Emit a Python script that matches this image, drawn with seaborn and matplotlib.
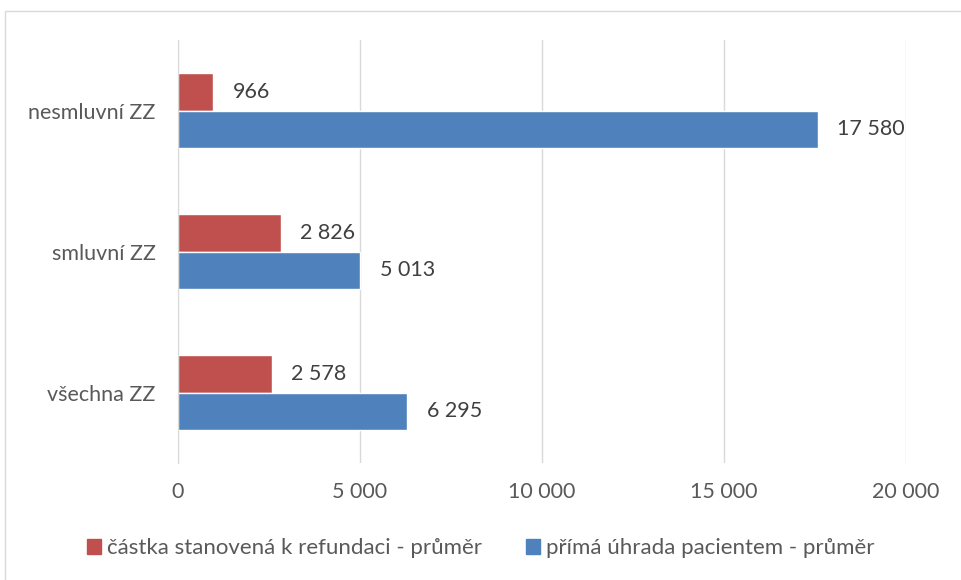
import matplotlib
matplotlib.use("Agg")
import matplotlib.pyplot as plt
import matplotlib.patches as mpatches
import pandas as pd
import seaborn as sns

# data
categories = ["nesmluvní ZZ", "smluvní ZZ", "všechna ZZ"]
series_names = ["částka stanovená k refundaci - průměr", "přímá úhrada pacientem - průměr"]
refund_values = [966, 2826, 2578]
direct_values = [17580, 5013, 6295]
tick_values = [0, 5000, 10000, 15000, 20000]
colors = ["#C0504D", "#4F81BD"]

df = pd.DataFrame({
    "kategorie": categories * 2,
    "serie": [series_names[0]] * 3 + [series_names[1]] * 3,
    "hodnota": refund_values + direct_values,
})

sns.set_style("white")
plt.rcParams["font.family"] = ["Lato", "DejaVu Sans"]

def fmt(v):
    return f"{v:,.0f}".replace(",", " ")

fig = plt.figure(figsize=(9.61, 5.8), dpi=100)
ax = fig.add_axes([178 / 961, 1 - 463 / 580, (906 - 178) / 961, (463 - 40) / 580])

sns.barplot(data=df, y="kategorie", x="hodnota", hue="serie", order=categories,
            hue_order=series_names, palette=colors, width=0.525, orient="h",
            saturation=1, ax=ax, legend=False)

for cont in ax.containers:
    ax.bar_label(cont, labels=[fmt(b.get_width()) for b in cont], padding=14,
                 fontsize=15.5, color="#404040")

ax.set_xlim(0, 20000)
ax.set_xticks(tick_values)
ax.set_xticklabels([fmt(t) for t in tick_values])
ax.set_xlabel("")
ax.set_ylabel("")
ax.grid(axis="x", color="#D9D9D9", linewidth=1)
ax.set_axisbelow(True)
for s in ["top", "right", "bottom"]:
    ax.spines[s].set_visible(False)
ax.spines["left"].set_color("#D9D9D9")
ax.tick_params(axis="both", length=0, labelsize=15.5, labelcolor="#595959")
ax.tick_params(axis="x", pad=14)
ax.tick_params(axis="y", pad=16)

handles = [mpatches.Patch(color=c, label=n) for c, n in zip(colors, series_names)]
fig.legend(handles=handles, loc="center", bbox_to_anchor=(0.5, 1 - 548 / 580), ncol=2,
           frameon=False, fontsize=16, labelcolor="#595959", handlelength=0.65,
           handleheight=0.65, handletextpad=0.25, columnspacing=2.0)

# chart border
fig.patches.append(mpatches.Rectangle((5 / 961, -0.1), 1.2, 1 - 11 / 580 + 0.1,
                                      transform=fig.transFigure, fill=False,
                                      edgecolor="#D9D9D9", linewidth=1))

fig.savefig("out.png", dpi=100)
